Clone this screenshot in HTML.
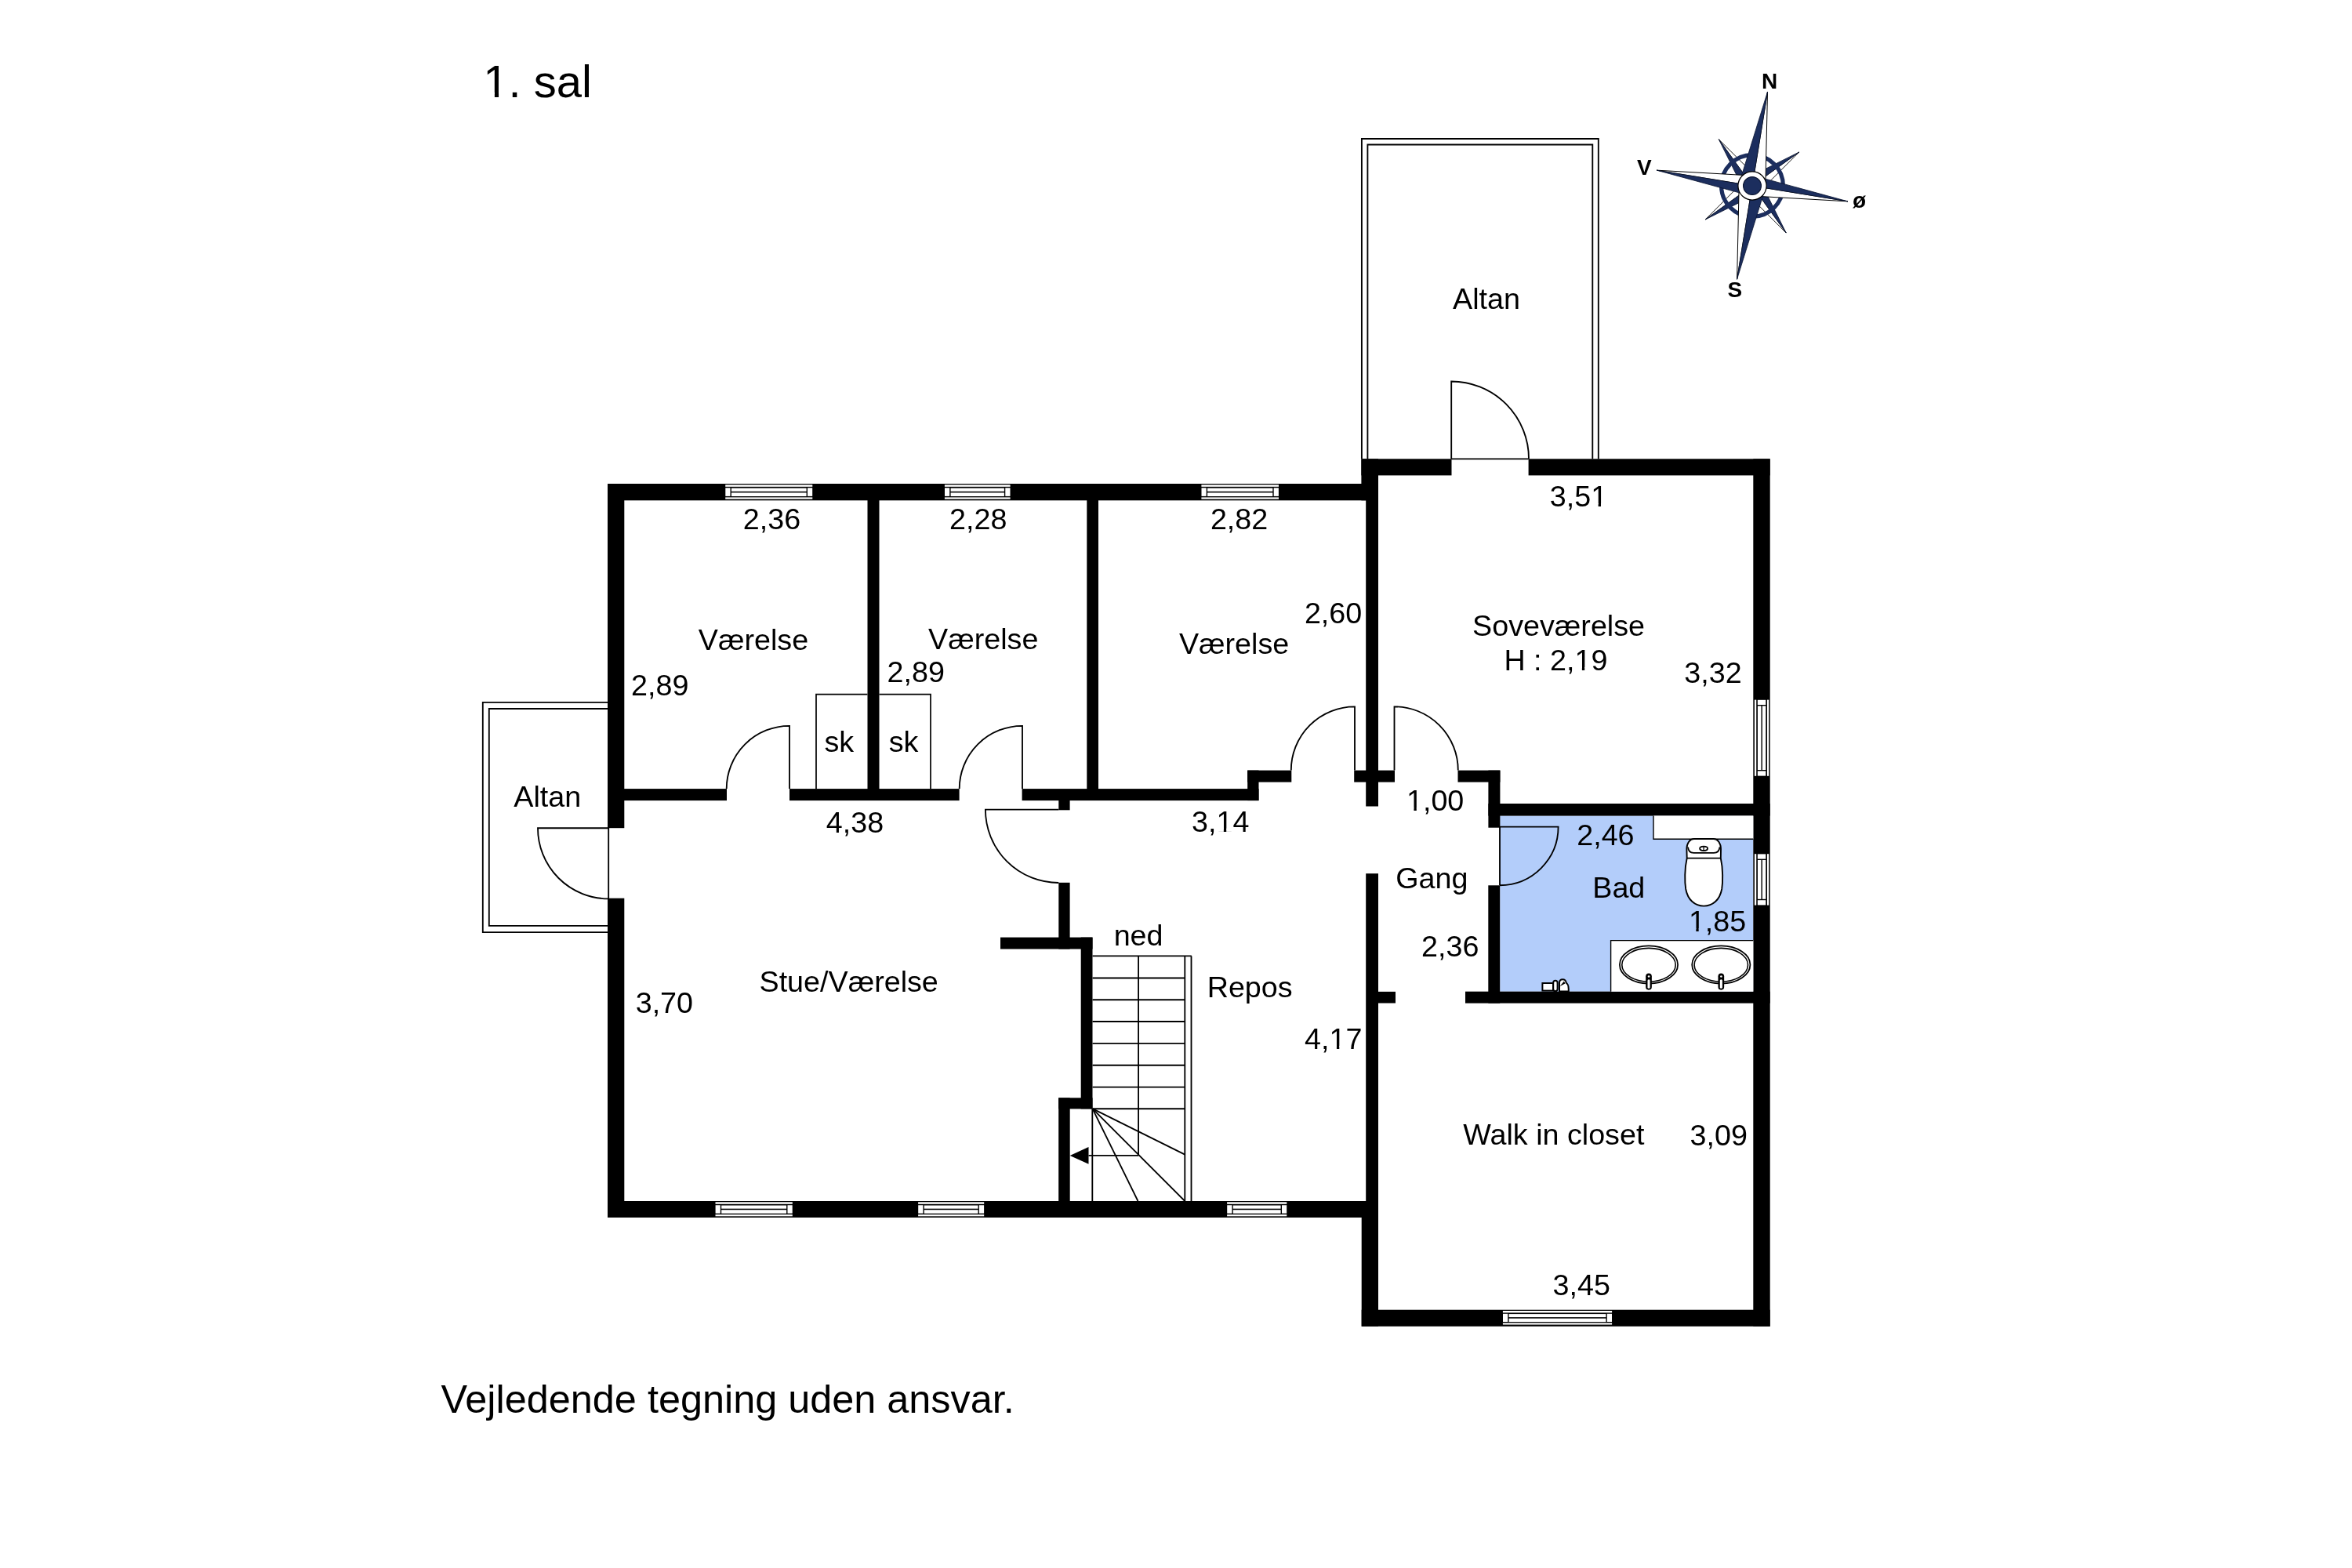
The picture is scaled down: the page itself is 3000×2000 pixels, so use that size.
<!DOCTYPE html><html><head><meta charset="utf-8"><style>html,body{margin:0;padding:0;background:#fff;overflow:hidden}svg text{-webkit-font-smoothing:antialiased}svg{display:block;will-change:transform}</style></head><body><svg width="3000" height="2000" viewBox="0 0 3000 2000" style="font-family:'Liberation Sans',sans-serif" fill="#000"><rect x="1913.20" y="1040.60" width="323.10" height="224.10" fill="#b3cdfa" />
<rect x="775.00" y="617.00" width="983.00" height="21.30" fill="#000" />
<rect x="1736.40" y="585.30" width="21.60" height="53.00" fill="#000" />
<rect x="1736.40" y="585.30" width="115.10" height="21.10" fill="#000" />
<rect x="1949.60" y="585.30" width="308.10" height="21.10" fill="#000" />
<rect x="2236.30" y="585.30" width="21.40" height="1106.50" fill="#000" />
<rect x="1736.70" y="1670.70" width="521.00" height="21.10" fill="#000" />
<rect x="1736.70" y="1532.00" width="21.30" height="159.80" fill="#000" />
<rect x="775.00" y="1532.00" width="983.00" height="21.00" fill="#000" />
<rect x="775.00" y="617.00" width="21.30" height="439.20" fill="#000" />
<rect x="775.00" y="1145.70" width="21.30" height="407.30" fill="#000" />
<rect x="1106.50" y="638.00" width="15.00" height="383.00" fill="#000" />
<rect x="1386.30" y="638.00" width="14.70" height="383.00" fill="#000" />
<rect x="1742.20" y="638.00" width="15.80" height="390.50" fill="#000" />
<rect x="796.00" y="1006.10" width="131.00" height="15.00" fill="#000" />
<rect x="1007.00" y="1006.10" width="216.60" height="15.00" fill="#000" />
<rect x="1303.60" y="1006.10" width="301.90" height="15.00" fill="#000" />
<rect x="1591.20" y="982.60" width="14.30" height="38.50" fill="#000" />
<rect x="1591.20" y="982.60" width="56.10" height="15.00" fill="#000" />
<rect x="1727.20" y="982.60" width="51.80" height="15.00" fill="#000" />
<rect x="1859.50" y="982.60" width="53.90" height="15.00" fill="#000" />
<rect x="1898.40" y="982.60" width="15.00" height="73.10" fill="#000" />
<rect x="1898.40" y="1025.00" width="359.30" height="15.60" fill="#000" />
<rect x="1898.30" y="1129.30" width="14.90" height="150.30" fill="#000" />
<rect x="1869.00" y="1264.70" width="388.70" height="14.90" fill="#000" />
<rect x="1742.20" y="1114.20" width="15.80" height="438.80" fill="#000" />
<rect x="1758.00" y="1264.90" width="22.00" height="14.60" fill="#000" />
<rect x="1350.30" y="1021.00" width="14.30" height="12.30" fill="#000" />
<rect x="1350.30" y="1125.80" width="14.30" height="84.70" fill="#000" />
<rect x="1276.00" y="1195.60" width="117.50" height="14.90" fill="#000" />
<rect x="1378.70" y="1195.60" width="14.80" height="218.80" fill="#000" />
<rect x="1350.20" y="1400.30" width="43.30" height="14.10" fill="#000" />
<rect x="1350.20" y="1400.30" width="14.50" height="131.70" fill="#000" />
<rect x="925.20" y="618.30" width="111.10" height="2.50" fill="#fff" />
<rect x="925.20" y="634.40" width="111.10" height="2.20" fill="#fff" />
<rect x="925.30" y="622.30" width="6.20" height="10.60" fill="#fff" />
<rect x="1030.00" y="622.30" width="6.20" height="10.60" fill="#fff" />
<rect x="932.90" y="622.60" width="95.70" height="4.20" fill="#fff" />
<rect x="932.90" y="628.40" width="95.70" height="4.60" fill="#fff" />
<rect x="1204.90" y="618.30" width="83.70" height="2.50" fill="#fff" />
<rect x="1204.90" y="634.40" width="83.70" height="2.20" fill="#fff" />
<rect x="1205.00" y="622.30" width="6.20" height="10.60" fill="#fff" />
<rect x="1282.30" y="622.30" width="6.20" height="10.60" fill="#fff" />
<rect x="1212.60" y="622.60" width="68.30" height="4.20" fill="#fff" />
<rect x="1212.60" y="628.40" width="68.30" height="4.60" fill="#fff" />
<rect x="1532.40" y="618.30" width="98.60" height="2.50" fill="#fff" />
<rect x="1532.40" y="634.40" width="98.60" height="2.20" fill="#fff" />
<rect x="1532.50" y="622.30" width="6.20" height="10.60" fill="#fff" />
<rect x="1624.70" y="622.30" width="6.20" height="10.60" fill="#fff" />
<rect x="1540.10" y="622.60" width="83.20" height="4.20" fill="#fff" />
<rect x="1540.10" y="628.40" width="83.20" height="4.60" fill="#fff" />
<rect x="912.50" y="1533.28" width="98.30" height="2.46" fill="#fff" />
<rect x="912.50" y="1549.15" width="98.30" height="2.17" fill="#fff" />
<rect x="912.60" y="1537.23" width="6.20" height="10.45" fill="#fff" />
<rect x="1004.50" y="1537.23" width="6.20" height="10.45" fill="#fff" />
<rect x="920.20" y="1537.52" width="82.90" height="4.14" fill="#fff" />
<rect x="920.20" y="1543.24" width="82.90" height="4.54" fill="#fff" />
<rect x="1171.10" y="1533.28" width="84.10" height="2.46" fill="#fff" />
<rect x="1171.10" y="1549.15" width="84.10" height="2.17" fill="#fff" />
<rect x="1171.20" y="1537.23" width="6.20" height="10.45" fill="#fff" />
<rect x="1248.90" y="1537.23" width="6.20" height="10.45" fill="#fff" />
<rect x="1178.80" y="1537.52" width="68.70" height="4.14" fill="#fff" />
<rect x="1178.80" y="1543.24" width="68.70" height="4.54" fill="#fff" />
<rect x="1565.10" y="1533.28" width="76.20" height="2.46" fill="#fff" />
<rect x="1565.10" y="1549.15" width="76.20" height="2.17" fill="#fff" />
<rect x="1565.20" y="1537.23" width="6.20" height="10.45" fill="#fff" />
<rect x="1635.00" y="1537.23" width="6.20" height="10.45" fill="#fff" />
<rect x="1572.80" y="1537.52" width="60.80" height="4.14" fill="#fff" />
<rect x="1572.80" y="1543.24" width="60.80" height="4.54" fill="#fff" />
<rect x="1916.90" y="1671.95" width="139.20" height="2.41" fill="#fff" />
<rect x="1916.90" y="1687.45" width="139.20" height="2.12" fill="#fff" />
<rect x="1917.00" y="1675.80" width="6.20" height="10.20" fill="#fff" />
<rect x="2049.80" y="1675.80" width="6.20" height="10.20" fill="#fff" />
<rect x="1924.60" y="1676.09" width="123.80" height="4.04" fill="#fff" />
<rect x="1924.60" y="1681.67" width="123.80" height="4.43" fill="#fff" />
<rect x="2237.91" y="892.60" width="2.31" height="97.20" fill="#fff" />
<rect x="2253.98" y="892.60" width="2.21" height="97.20" fill="#fff" />
<rect x="2241.83" y="892.80" width="10.45" height="6.20" fill="#fff" />
<rect x="2241.83" y="983.40" width="10.45" height="6.20" fill="#fff" />
<rect x="2241.93" y="900.40" width="4.52" height="81.60" fill="#fff" />
<rect x="2247.85" y="900.40" width="4.42" height="81.60" fill="#fff" />
<rect x="2237.91" y="1089.20" width="2.31" height="65.40" fill="#fff" />
<rect x="2253.98" y="1089.20" width="2.21" height="65.40" fill="#fff" />
<rect x="2241.83" y="1089.40" width="10.45" height="6.20" fill="#fff" />
<rect x="2241.83" y="1148.20" width="10.45" height="6.20" fill="#fff" />
<rect x="2241.93" y="1097.00" width="4.52" height="49.80" fill="#fff" />
<rect x="2247.85" y="1097.00" width="4.42" height="49.80" fill="#fff" />
<path d="M1007.00,1006.10 L1007.00,925.80 A80.30,80.30 0 0 0 926.70,1006.10" fill="none" stroke="#000" stroke-width="1.85" />
<path d="M1304.00,1006.10 L1304.00,925.80 A80.30,80.30 0 0 0 1223.70,1006.10" fill="none" stroke="#000" stroke-width="1.85" />
<path d="M1728.00,982.60 L1728.00,901.40 A81.20,81.20 0 0 0 1646.80,982.60" fill="none" stroke="#000" stroke-width="1.85" />
<path d="M1778.50,982.60 L1778.50,901.30 A81.30,81.30 0 0 1 1859.80,982.60" fill="none" stroke="#000" stroke-width="1.85" />
<path d="M1851.20,585.30 L1851.20,486.50 A98.80,98.80 0 0 1 1950.00,585.30" fill="none" stroke="#000" stroke-width="1.85" />
<line x1="1851.20" y1="585.30" x2="1949.80" y2="585.30" stroke="#000" stroke-width="1.85"/>
<path d="M1350.30,1032.60 L1256.90,1032.60 A93.4,93.4 0 0 0 1350.30,1126.00" fill="none" stroke="#000" stroke-width="1.85" />
<path d="M1913.00,1129.20 L1913.00,1054.60 L1987.60,1054.60 A74.6,74.6 0 0 1 1913.00,1129.20" fill="none" stroke="#000" stroke-width="1.85" />
<path d="M776.20,1146.40 L776.20,1056.20 L686.00,1056.20 A90.2,90.2 0 0 0 776.20,1146.40" fill="none" stroke="#000" stroke-width="1.85" />
<path d="M1736.9,585.3 V177 H2038.8 V585.3" fill="none" stroke="#000" stroke-width="1.85" />
<path d="M1744.4,585.3 V184.5 H2031.3 V585.3" fill="none" stroke="#000" stroke-width="1.85" />
<path d="M775,895.8 H615.8 V1189.1 H775" fill="none" stroke="#000" stroke-width="1.85" />
<path d="M775,904 H623.8 V1180.9 H775" fill="none" stroke="#000" stroke-width="1.85" />
<path d="M1041,1006.1 V885.7 H1106.5 M1121.5,885.7 H1187 V1006.1" fill="none" stroke="#000" stroke-width="1.7" />
<line x1="1393.50" y1="1219.40" x2="1519.80" y2="1219.40" stroke="#000" stroke-width="1.85"/>
<line x1="1393.50" y1="1247.50" x2="1511.30" y2="1247.50" stroke="#000" stroke-width="1.85"/>
<line x1="1393.50" y1="1275.20" x2="1511.30" y2="1275.20" stroke="#000" stroke-width="1.85"/>
<line x1="1393.50" y1="1303.00" x2="1511.30" y2="1303.00" stroke="#000" stroke-width="1.85"/>
<line x1="1393.50" y1="1330.90" x2="1511.30" y2="1330.90" stroke="#000" stroke-width="1.85"/>
<line x1="1393.50" y1="1358.70" x2="1511.30" y2="1358.70" stroke="#000" stroke-width="1.85"/>
<line x1="1393.50" y1="1386.60" x2="1511.30" y2="1386.60" stroke="#000" stroke-width="1.85"/>
<line x1="1393.50" y1="1414.20" x2="1511.30" y2="1414.20" stroke="#000" stroke-width="1.85"/>
<line x1="1452.10" y1="1219.40" x2="1452.10" y2="1472.70" stroke="#000" stroke-width="1.85"/>
<line x1="1511.30" y1="1219.40" x2="1511.30" y2="1532.00" stroke="#000" stroke-width="1.85"/>
<line x1="1519.50" y1="1219.40" x2="1519.50" y2="1532.00" stroke="#000" stroke-width="1.85"/>
<line x1="1393.50" y1="1414.20" x2="1511.30" y2="1472.70" stroke="#000" stroke-width="1.85"/>
<line x1="1393.50" y1="1414.20" x2="1511.30" y2="1532.00" stroke="#000" stroke-width="1.85"/>
<line x1="1393.50" y1="1414.20" x2="1451.50" y2="1532.00" stroke="#000" stroke-width="1.85"/>
<line x1="1393.30" y1="1414.20" x2="1393.30" y2="1532.00" stroke="#000" stroke-width="1.85"/>
<line x1="1388.50" y1="1473.90" x2="1452.10" y2="1473.90" stroke="#000" stroke-width="1.85"/>
<path d="M1364.7,1473.9 L1388.5,1463 L1388.5,1484.8 Z" fill="#000"/>
<path d="M2109,1040.6 V1070.2 H2236.3 V1040.6 Z" fill="#fff"/>
<path d="M2109,1040.6 V1070.2 H2236.3" fill="none" stroke="#000" stroke-width="1.4" />
<path d="M2054.6,1264.7 V1199.6 H2236.3 V1264.7 Z" fill="#fff"/>
<path d="M2054.6,1264.7 V1199.6 H2236.3" fill="none" stroke="#000" stroke-width="1.4" />
<path d="M2151.7,1094.6 L2151.4,1083 C2151.4,1075.8 2155.3,1070 2161,1070 L2185.4,1070 C2191.1,1070 2195,1075.8 2195,1083 L2194.8,1094.6 C2197.8,1108 2197.6,1125 2196.2,1134 C2193.6,1148 2184.5,1155.6 2173.2,1155.6 C2161.9,1155.6 2152.8,1148 2150.2,1134 C2148.8,1125 2148.6,1108 2151.7,1094.6 Z" fill="#fff" stroke="#000" stroke-width="1.9" />
<path d="M2153.1,1080.5 C2153.3,1085.6 2155.6,1087.8 2160.4,1087.8 H2186 C2190.8,1087.8 2193.1,1085.6 2193.4,1080.5" fill="none" stroke="#000" stroke-width="1.8" />
<line x1="2151.70" y1="1094.60" x2="2194.80" y2="1094.60" stroke="#000" stroke-width="1.9"/>
<ellipse cx="2173.1" cy="1082.3" rx="5" ry="2.7" fill="#fff" stroke="#000" stroke-width="1.8"/>
<line x1="2173.10" y1="1080.00" x2="2173.10" y2="1084.60" stroke="#000" stroke-width="1.3"/>
<ellipse cx="2103" cy="1230.5" rx="37.1" ry="24.1" fill="#fff" stroke="#000" stroke-width="1.75"/>
<ellipse cx="2103" cy="1230.8" rx="34.2" ry="21.4" fill="none" stroke="#000" stroke-width="1.6"/>
<rect x="2099.15" y="1241.4" width="7.7" height="21.3" rx="3.85" fill="#000"/>
<circle cx="2103.1" cy="1245.5" r="1.3" fill="#fff"/>
<rect x="2101.5" y="1249.2" width="3.1" height="11.6" rx="1.5" fill="#fff"/>
<ellipse cx="2195.3" cy="1230.5" rx="37.1" ry="24.1" fill="#fff" stroke="#000" stroke-width="1.75"/>
<ellipse cx="2195.3" cy="1230.8" rx="34.2" ry="21.4" fill="none" stroke="#000" stroke-width="1.6"/>
<rect x="2191.4500000000003" y="1241.4" width="7.7" height="21.3" rx="3.85" fill="#000"/>
<circle cx="2195.4" cy="1245.5" r="1.3" fill="#fff"/>
<rect x="2193.8" y="1249.2" width="3.1" height="11.6" rx="1.5" fill="#fff"/>
<g fill="#fff" stroke="#000" stroke-width="2"><rect x="1967.4" y="1254" width="13.6" height="9.6"/><rect x="1981.2" y="1250.8" width="5.4" height="13.4" rx="2.7"/><path d="M1989,1264.5 V1253.6 C1989,1247.8 1997.4,1247.8 1997.6,1253.4 L1999,1255 C2000.6,1256 2000.8,1259 2000.8,1264.5 Z"/></g>
<path d="M1989.6,1258 L1995,1251.5 L1996.4,1254.5 Z" fill="#000"/>
<path d="M2242.01,246.74 L2294.65,194.06 L2235.00,237.00" fill="#fff" stroke="#000" stroke-width="0.9"/><path d="M2235.00,237.00 L2227.99,227.26 L2294.65,194.06 Z" fill="#1c2e5e" stroke="#0a1430" stroke-width="0.8"/><path d="M2225.26,244.01 L2278.23,297.06 L2235.00,237.00" fill="#fff" stroke="#000" stroke-width="0.9"/><path d="M2235.00,237.00 L2244.74,229.99 L2278.23,297.06 Z" fill="#1c2e5e" stroke="#0a1430" stroke-width="0.8"/><path d="M2227.99,227.26 L2175.35,279.94 L2235.00,237.00" fill="#fff" stroke="#000" stroke-width="0.9"/><path d="M2235.00,237.00 L2242.01,246.74 L2175.35,279.94 Z" fill="#1c2e5e" stroke="#0a1430" stroke-width="0.8"/><path d="M2244.74,229.99 L2192.35,177.76 L2235.00,237.00" fill="#fff" stroke="#000" stroke-width="0.9"/><path d="M2235.00,237.00 L2225.26,244.01 L2192.35,177.76 Z" fill="#1c2e5e" stroke="#0a1430" stroke-width="0.8"/><circle cx="2235" cy="237" r="39.4" fill="none" stroke="#1c2e5e" stroke-width="5.2"/><path d="M2251.78,239.73 L2254.53,117.08 L2235.00,237.00" fill="#fff" stroke="#000" stroke-width="1"/><path d="M2235.00,237.00 L2218.22,234.27 L2254.53,117.08 Z" fill="#1c2e5e" stroke="#0a1430" stroke-width="0.8"/><path d="M2232.91,249.83 L2356.89,256.85 L2235.00,237.00" fill="#fff" stroke="#000" stroke-width="1"/><path d="M2235.00,237.00 L2237.09,224.17 L2356.89,256.85 Z" fill="#1c2e5e" stroke="#0a1430" stroke-width="0.8"/><path d="M2218.22,234.27 L2215.58,356.23 L2235.00,237.00" fill="#fff" stroke="#000" stroke-width="1"/><path d="M2235.00,237.00 L2251.78,239.73 L2215.58,356.23 Z" fill="#1c2e5e" stroke="#0a1430" stroke-width="0.8"/><path d="M2237.09,224.17 L2113.11,217.15 L2235.00,237.00" fill="#fff" stroke="#000" stroke-width="1"/><path d="M2235.00,237.00 L2232.91,249.83 L2113.11,217.15 Z" fill="#1c2e5e" stroke="#0a1430" stroke-width="0.8"/><circle cx="2235" cy="237" r="18.1" fill="#fff" stroke="#000" stroke-width="1.2"/><circle cx="2235" cy="237" r="11.4" fill="#1c2e5e" stroke="#0a1430" stroke-width="1.2"/>
<text x="947.82" y="675.20" font-size="37.7" >2,36</text>
<text x="1211.12" y="675.40" font-size="37.7" >2,28</text>
<text x="1543.91" y="675.00" font-size="37.7" >2,82</text>
<text x="1976.79" y="645.80" font-size="37.7" >3,51</text>
<text x="890.82" y="828.80" font-size="37.7" >Værelse</text>
<text x="1184.02" y="828.20" font-size="37.7" >Værelse</text>
<text x="1503.92" y="834.30" font-size="37.7" >Værelse</text>
<text x="1663.91" y="794.70" font-size="37.7" >2,60</text>
<text x="1878.12" y="810.60" font-size="37.7" >Soveværelse</text>
<text x="1918.38" y="854.70" font-size="37.7" >H : 2,19</text>
<text x="2148.29" y="870.80" font-size="37.7" >3,32</text>
<text x="805.12" y="887.10" font-size="37.7" >2,89</text>
<text x="1131.52" y="870.40" font-size="37.7" >2,89</text>
<text x="1051.47" y="958.60" font-size="37.7" >sk</text>
<text x="1133.77" y="958.60" font-size="37.7" >sk</text>
<text x="1053.75" y="1062.20" font-size="37.7" >4,38</text>
<text x="1519.99" y="1060.60" font-size="37.7" >3,14</text>
<text x="1793.98" y="1034.30" font-size="37.7" >1,00</text>
<text x="1853.00" y="394.40" font-size="37.7" >Altan</text>
<text x="655.30" y="1028.70" font-size="37.7" >Altan</text>
<text x="1780.21" y="1133.00" font-size="37.7" >Gang</text>
<text x="1813.12" y="1219.60" font-size="37.7" >2,36</text>
<text x="2011.21" y="1077.70" font-size="37.7" >2,46</text>
<text x="2031.28" y="1145.30" font-size="37.7" >Bad</text>
<text x="2153.88" y="1187.90" font-size="37.7" >1,85</text>
<text x="1420.66" y="1205.80" font-size="37.7" >ned</text>
<text x="1539.68" y="1271.70" font-size="37.7" >Repos</text>
<text x="968.51" y="1264.90" font-size="37.7" >Stue/Værelse</text>
<text x="810.69" y="1292.00" font-size="37.7" >3,70</text>
<text x="1664.05" y="1337.70" font-size="37.7" >4,17</text>
<text x="1866.32" y="1460.30" font-size="37.7" >Walk in closet</text>
<text x="2155.59" y="1461.00" font-size="37.7" >3,09</text>
<text x="1980.49" y="1651.60" font-size="37.7" >3,45</text>
<text x="616.36" y="123.70" font-size="58" >1. sal</text>
<text x="562.50" y="1801.60" font-size="50.4" >Vejledende tegning uden ansvar.</text>
<rect x="2030.88" y="642.03" width="7.75" height="4.07" fill="#fff"/>
<rect x="2041.98" y="642.03" width="7.54" height="4.07" fill="#fff"/>
<rect x="2010.12" y="850.93" width="7.75" height="4.07" fill="#fff"/>
<rect x="2021.23" y="850.93" width="7.54" height="4.07" fill="#fff"/>
<rect x="1553.11" y="1056.83" width="7.75" height="4.07" fill="#fff"/>
<rect x="1564.21" y="1056.83" width="7.54" height="4.07" fill="#fff"/>
<rect x="1795.68" y="1030.53" width="7.75" height="4.07" fill="#fff"/>
<rect x="1806.78" y="1030.53" width="7.54" height="4.07" fill="#fff"/>
<rect x="2155.58" y="1184.13" width="7.75" height="4.07" fill="#b3cdfa"/>
<rect x="2166.68" y="1184.13" width="7.54" height="4.07" fill="#b3cdfa"/>
<rect x="1697.17" y="1333.93" width="7.75" height="4.07" fill="#fff"/>
<rect x="1708.27" y="1333.93" width="7.54" height="4.07" fill="#fff"/>
<rect x="618.97" y="117.90" width="11.92" height="6.26" fill="#fff"/>
<rect x="636.05" y="117.90" width="11.60" height="6.26" fill="#fff"/>
<g font-weight="bold" font-size="28">
<text x="2257" y="112.9" text-anchor="middle">N</text>
<text x="2097.4" y="222.7" text-anchor="middle">V</text>
<text x="2212.8" y="379" text-anchor="middle">S</text>
<text x="2371.6" y="265.2" text-anchor="middle">ø</text>
</g></svg></body></html>
